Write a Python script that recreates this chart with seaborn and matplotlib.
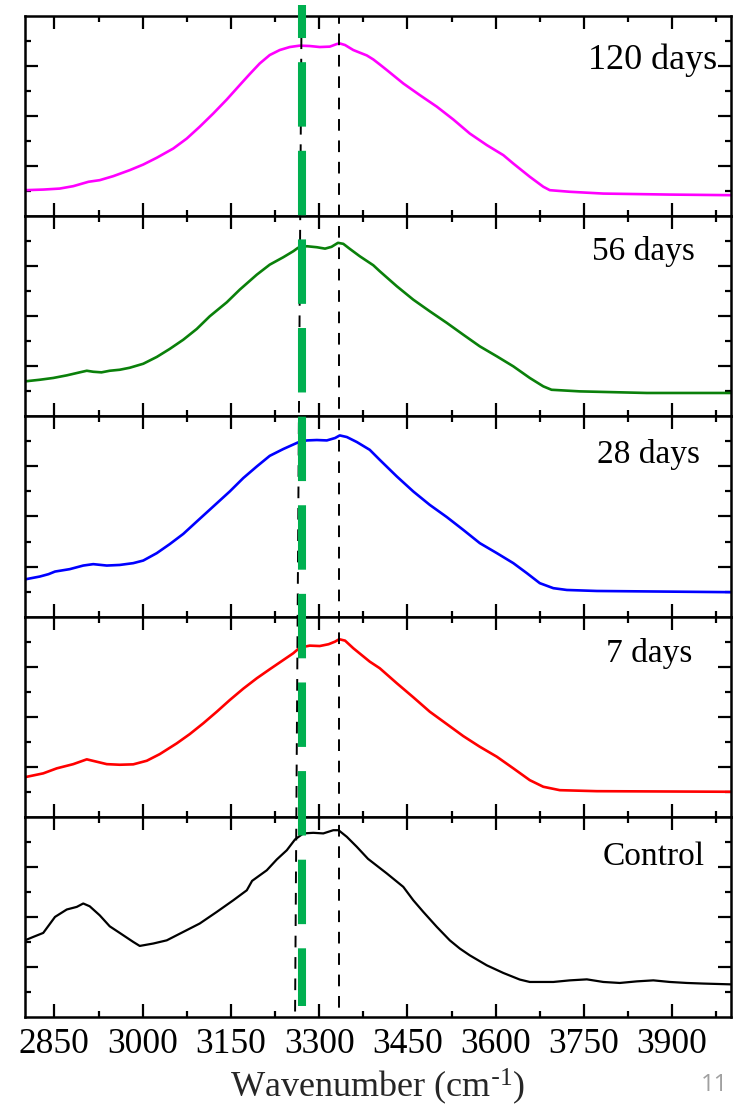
import matplotlib
matplotlib.use("Agg")
import matplotlib.pyplot as plt
from matplotlib.ticker import MultipleLocator, FixedLocator
import seaborn as sns

# ---------------- data ----------------
labels = ["120 days", "56 days", "28 days", "7 days", "Control"]
colors = ["#FF00FF", "#0A800A", "#0000FF", "#FF0000", "#000000"]

wn_120 = [2800, 2831, 2859, 2882, 2908, 2927, 2950, 2978, 3001, 3024, 3052, 3075, 3097, 3120,
          3143, 3165, 3182, 3199, 3216, 3233, 3250, 3267, 3284, 3301, 3318, 3330, 3335, 3344,
          3358, 3369, 3381, 3392, 3403, 3415, 3443, 3471, 3500, 3528, 3556, 3585, 3613, 3630,
          3658, 3681, 3692, 3726, 3783, 3896, 4000]
ab_120 = [0.13, 0.133, 0.138, 0.15, 0.172, 0.18, 0.20, 0.23, 0.258, 0.292, 0.338, 0.388, 0.447, 0.513,
          0.583, 0.655, 0.71, 0.763, 0.805, 0.83, 0.845, 0.852, 0.85, 0.845, 0.847, 0.86, 0.863, 0.855,
          0.83, 0.817, 0.803, 0.783, 0.758, 0.73, 0.663, 0.605, 0.547, 0.483, 0.413, 0.355, 0.305, 0.263,
          0.197, 0.147, 0.13, 0.122, 0.113, 0.108, 0.105]

wn_56 = [2800, 2825, 2848, 2871, 2893, 2905, 2916, 2930, 2944, 2961, 2978, 3001, 3024, 3046,
         3069, 3092, 3114, 3143, 3165, 3194, 3216, 3239, 3256, 3264, 3279, 3296, 3310, 3321,
         3332, 3341, 3352, 3369, 3392, 3403, 3432, 3460, 3488, 3517, 3545, 3573, 3602, 3630,
         3658, 3681, 3695, 3743, 3857, 4000]
ab_56 = [0.175, 0.183, 0.192, 0.205, 0.22, 0.228, 0.223, 0.22, 0.228, 0.233, 0.243, 0.263, 0.297, 0.337,
         0.383, 0.437, 0.50, 0.57, 0.633, 0.708, 0.758, 0.795, 0.825, 0.842, 0.85, 0.845, 0.838, 0.847,
         0.867, 0.862, 0.837, 0.80, 0.755, 0.725, 0.65, 0.583, 0.525, 0.467, 0.408, 0.35, 0.30, 0.25,
         0.192, 0.15, 0.133, 0.125, 0.117, 0.117]

wn_28 = [2800, 2825, 2840, 2851, 2876, 2899, 2916, 2939, 2961, 2984, 3001, 3024, 3046, 3069,
         3092, 3120, 3148, 3171, 3194, 3216, 3239, 3264, 3279, 3296, 3313, 3327, 3335, 3347,
         3364, 3386, 3403, 3432, 3460, 3488, 3517, 3545, 3573, 3602, 3630, 3653, 3675, 3698,
         3721, 3772, 3885, 4000]
ab_28 = [0.186, 0.20, 0.212, 0.225, 0.237, 0.255, 0.262, 0.255, 0.258, 0.267, 0.28, 0.317, 0.362, 0.413,
         0.475, 0.55, 0.625, 0.692, 0.75, 0.803, 0.837, 0.87, 0.88, 0.882, 0.88, 0.892, 0.905, 0.897,
         0.872, 0.833, 0.783, 0.70, 0.625, 0.558, 0.497, 0.433, 0.367, 0.317, 0.267, 0.217, 0.167, 0.142,
         0.133, 0.128, 0.125, 0.122]

wn_7 = [2800, 2831, 2854, 2882, 2905, 2922, 2939, 2961, 2984, 3007, 3029, 3058, 3080, 3103,
        3126, 3148, 3171, 3194, 3216, 3239, 3256, 3267, 3284, 3301, 3316, 3327, 3334, 3344,
        3358, 3386, 3403, 3432, 3460, 3488, 3517, 3545, 3573, 3602, 3630, 3658, 3681, 3709,
        3772, 4000]
ab_7 = [0.198, 0.217, 0.242, 0.263, 0.287, 0.275, 0.263, 0.26, 0.262, 0.28, 0.313, 0.367, 0.413, 0.467,
        0.525, 0.583, 0.64, 0.692, 0.737, 0.783, 0.817, 0.845, 0.855, 0.853, 0.862, 0.875, 0.887, 0.88,
        0.842, 0.775, 0.742, 0.667, 0.597, 0.525, 0.463, 0.403, 0.35, 0.30, 0.242, 0.183, 0.15, 0.133,
        0.128, 0.125]

wn_ctrl = [2800, 2814, 2831, 2851, 2871, 2888, 2899, 2910, 2927, 2944, 2961, 2984, 2995, 3018,
           3041, 3069, 3097, 3126, 3154, 3177, 3186, 3194, 3211, 3228, 3245, 3259, 3273, 3290,
           3307, 3324, 3333, 3347, 3364, 3383, 3415, 3443, 3460, 3477, 3500, 3522, 3539, 3556,
           3585, 3613, 3641, 3658, 3698, 3726, 3755, 3783, 3811, 3840, 3868, 3896, 3925, 3953, 4000]
ab_ctrl = [0.383, 0.40, 0.42, 0.50, 0.537, 0.55, 0.567, 0.553, 0.508, 0.453, 0.42, 0.375, 0.355, 0.367,
           0.383, 0.425, 0.467, 0.525, 0.583, 0.633, 0.68, 0.697, 0.733, 0.787, 0.833, 0.887, 0.917, 0.92,
           0.917, 0.933, 0.933, 0.90, 0.85, 0.79, 0.717, 0.65, 0.583, 0.525, 0.45, 0.383, 0.342, 0.308,
           0.258, 0.22, 0.187, 0.175, 0.175, 0.183, 0.188, 0.175, 0.17, 0.178, 0.183, 0.175, 0.17, 0.167, 0.163]

series_x = [wn_120, wn_56, wn_28, wn_7, wn_ctrl]
series_y = [ab_120, ab_56, ab_28, ab_7, ab_ctrl]

xticks_major = [2850, 3000, 3150, 3300, 3450, 3600, 3750, 3900]
x_range = (2800, 4000)

# reference lines (wavenumbers)
green_line_wn = 3270
black_line_a = (3270, 3259)   # top, bottom (slightly slanted)
black_line_b = 3334

# ---------------- style ----------------
sns.set_style("ticks")
plt.rcParams["font.family"] = ["Liberation Serif", "DejaVu Serif"]
plt.rcParams["mathtext.default"] = "regular"

W, H = 749, 1110
fig = plt.figure(figsize=(W / 100, H / 100), dpi=100)

left_px, right_px, top_px, bottom_px = 25, 731, 16, 1017
L = left_px / W
Wd = (right_px - left_px) / W
B = 1 - bottom_px / H
T = 1 - top_px / H
ph = (T - B) / 5

label_pos = [(3976, 0.78, 26), (3939, 0.825, 24), (3947, 0.81, 24), (3935, 0.817, 24), (3956, 0.80, 24)]

axes = []
for i in range(5):
    ax = fig.add_axes([L, T - (i + 1) * ph, Wd, ph])
    sns.lineplot(x=series_x[i], y=series_y[i], ax=ax, color=colors[i],
                 lw=1.9 if i < 4 else 1.6, sort=False, estimator=None)
    ax.set_xlim(*x_range)
    ax.set_ylim(0, 1)
    ax.xaxis.set_major_locator(FixedLocator(xticks_major))
    ax.xaxis.set_minor_locator(MultipleLocator(75))
    ax.yaxis.set_major_locator(FixedLocator([0.25, 0.5, 0.75]))
    ax.yaxis.set_minor_locator(FixedLocator([0.125, 0.375, 0.625, 0.875]))
    ax.tick_params(which="both", direction="in", top=True, right=True, width=1.6, colors="black")
    ax.tick_params(which="major", length=9.5)
    ax.tick_params(which="minor", length=4)
    ax.tick_params(axis="y", which="both", labelleft=False)
    ax.set_ylabel("")
    ax.set_xlabel("")
    for s in ax.spines.values():
        s.set_linewidth(1.8)
        s.set_color("black")
    if i < 4:
        ax.tick_params(axis="x", labelbottom=False)
    else:
        ax.tick_params(axis="x", labelsize=25.5, pad=8)
    tx, ty, fs = label_pos[i]
    ax.text(tx, ty, labels[i], transform=ax.get_xaxis_transform(), ha="right", va="center",
            fontsize=fs, color="black")
    axes.append(ax)

axes[-1].set_xlabel(r"Wavenumber (cm$^{\text{-}1}$)", fontsize=26, labelpad=4)

# overlay for reference lines spanning all panels
ov = fig.add_axes([L, B, Wd, T - B], facecolor="none")
ov.set_xlim(*x_range)
ov.set_ylim(0, 1)
ov.axis("off")
span = bottom_px - top_px
y_top_green = 1 + (top_px - 5) / span
y_bot_green = 1 - (1006 - top_px) / span

ov.plot([black_line_a[0], black_line_a[1]], [1, 0], color="black", lw=1.4,
        linestyle=(0, (6, 5)), clip_on=False)
ov.plot([black_line_b, black_line_b], [1, 0], color="black", lw=1.4,
        linestyle=(2, (6, 5)), clip_on=False)
ov.plot([green_line_wn, green_line_wn], [y_top_green, y_bot_green], color="#00B050", lw=5.8,
        linestyle=(3.9, (8, 3)), solid_capstyle="butt", dash_capstyle="butt", clip_on=False)

fig.text(728 / W, 1 - 1085 / H, "11", ha="right", va="center", fontsize=17,
         color="#A0A0A0", family=["Open Sans", "DejaVu Sans"])

fig.savefig("out.png", dpi=100)
